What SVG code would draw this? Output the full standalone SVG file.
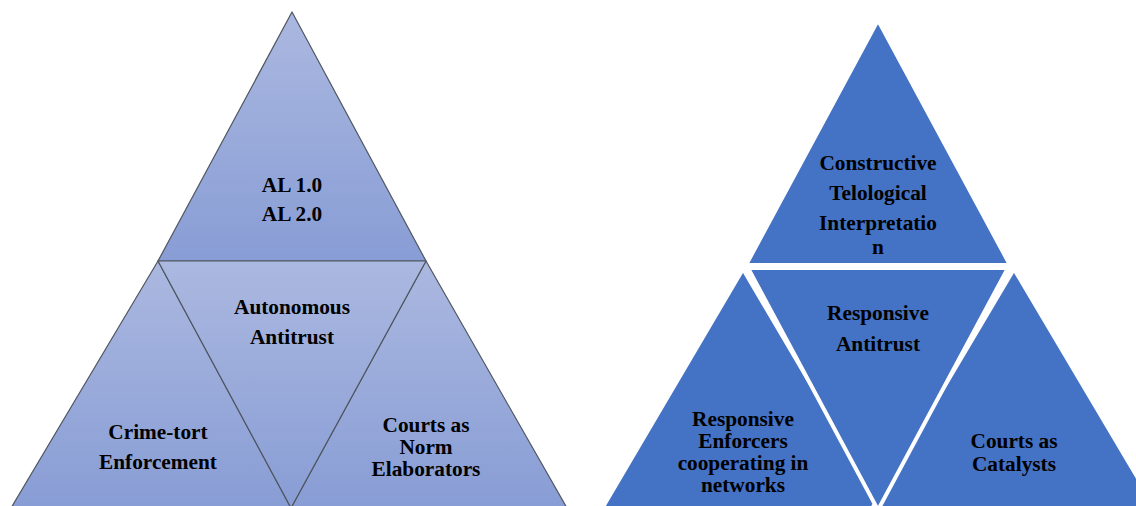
<svg xmlns="http://www.w3.org/2000/svg" width="1136" height="506" viewBox="0 0 1136 506">
  <defs>
    <linearGradient id="gL" x1="0" y1="0" x2="0" y2="1">
      <stop offset="0" stop-color="#ABB8E0"/>
      <stop offset="1" stop-color="#889DD5"/>
    </linearGradient>
  </defs>
  <style>
    .l { fill: url(#gL); stroke: #4F5660; stroke-width: 1.2; stroke-linejoin: round; }
    .r { fill: #4472C4; stroke: #FFFFFF; stroke-width: 4; stroke-linejoin: miter; }
    text { font-family: "Liberation Serif", "Times New Roman", serif; font-weight: bold; font-size: 21.3px; fill: #000; text-anchor: middle; }
  </style>
  <rect width="1136" height="506" fill="#FFFFFF"/>

  <g id="left-top">
    <polygon class="l" points="292,12 158,261 426,261"/>
    <text x="292" y="192">AL 1.0</text>
    <text x="292" y="221">AL 2.0</text>
  </g>
  <g id="left-bottom-left">
    <polygon class="l" points="158,261 11,508 291,508"/>
    <text x="158" y="439">Crime-tort</text>
    <text x="158" y="469">Enforcement</text>
  </g>
  <g id="left-bottom-right">
    <polygon class="l" points="426,261 291,508 567,508"/>
    <text x="426" y="432">Courts as</text>
    <text x="426" y="454">Norm</text>
    <text x="426" y="476">Elaborators</text>
  </g>
  <g id="left-middle">
    <polygon class="l" points="158,261 426,261 291,508"/>
    <text x="292" y="314">Autonomous</text>
    <text x="292" y="344">Antitrust</text>
  </g>

  <g id="right-top">
    <polygon class="r" points="878,20 746,265 1010,265"/>
    <text x="878" y="170">Constructive</text>
    <text x="878" y="200">Telological</text>
    <text x="878" y="230">Interpretatio</text>
    <text x="878" y="254">n</text>
  </g>
  <g id="right-bottom-left">
    <polygon class="r" points="743,269 600,512 886,512"/>
    <text x="743" y="426">Responsive</text>
    <text x="743" y="448">Enforcers</text>
    <text x="743" y="470">cooperating in</text>
    <text x="743" y="492">networks</text>
  </g>
  <g id="right-bottom-right">
    <polygon class="r" points="1014,269 870,512 1158,512"/>
    <text x="1014" y="448">Courts as</text>
    <text x="1014" y="471">Catalysts</text>
  </g>
  <g id="right-middle">
    <polygon class="r" points="748,268 1008,268 878,510"/>
    <text x="878" y="320">Responsive</text>
    <text x="878" y="351">Antitrust</text>
  </g>

  <g id="connectors"/>
</svg>
